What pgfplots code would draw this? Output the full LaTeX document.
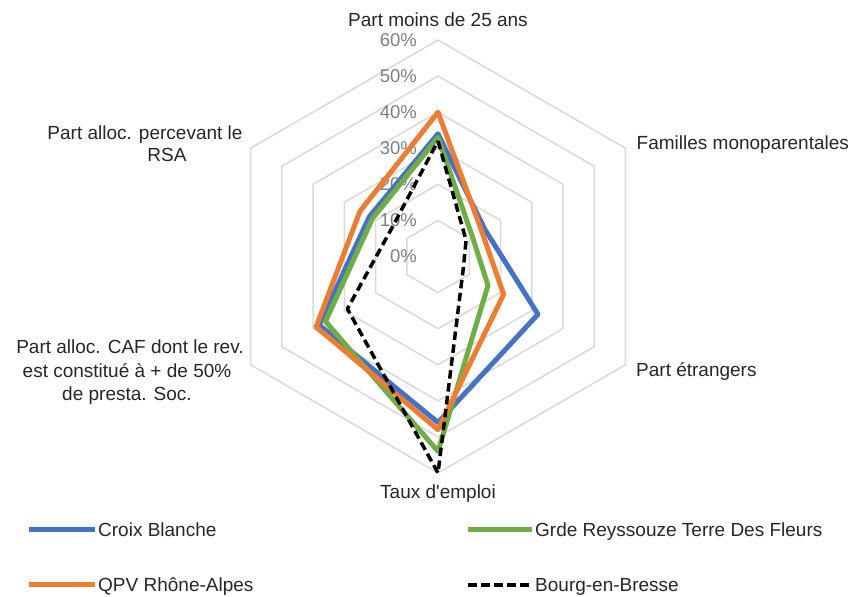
\documentclass[border=0pt]{standalone}
\usepackage{fontspec}
\setmainfont{Liberation Sans}
\usepackage{pgfplots}
\usepgfplotslibrary{polar}
\pgfplotsset{compat=1.18}
\definecolor{cblue}{HTML}{4472C4}
\definecolor{corange}{HTML}{ED7D31}
\definecolor{cgreen}{HTML}{70AD47}
\definecolor{gridc}{HTML}{D9D9D9}
\definecolor{tickc}{HTML}{7F7F7F}
\definecolor{txtc}{HTML}{262626}
\begin{document}
\begin{tikzpicture}
\useasboundingbox (0,0) rectangle (866bp,597bp);
\begin{polaraxis}[
  at={(438bp,340.5bp)}, anchor=center,
  width=433bp, height=433bp, scale only axis,
  ymin=0, ymax=60, xmin=0, xmax=360,
  enlargelimits=false,
  hide axis, clip=false,
]
% hexagonal grid
\addplot[gridc, line width=1.5bp] coordinates {(90,10)(30,10)(330,10)(270,10)(210,10)(150,10)} -- cycle;
\addplot[gridc, line width=1.5bp] coordinates {(90,20)(30,20)(330,20)(270,20)(210,20)(150,20)} -- cycle;
\addplot[gridc, line width=1.5bp] coordinates {(90,30)(30,30)(330,30)(270,30)(210,30)(150,30)} -- cycle;
\addplot[gridc, line width=1.5bp] coordinates {(90,40)(30,40)(330,40)(270,40)(210,40)(150,40)} -- cycle;
\addplot[gridc, line width=1.5bp] coordinates {(90,50)(30,50)(330,50)(270,50)(210,50)(150,50)} -- cycle;
\addplot[gridc, line width=1.5bp] coordinates {(90,60)(30,60)(330,60)(270,60)(210,60)(150,60)} -- cycle;
% tick labels
\foreach \r in {0,10,20,30,40,50,60}{
  \edef\tmp{\noexpand\node[anchor=east, inner sep=0pt, xshift=-21bp, text=tickc, font=\noexpand\fontsize{18.5bp}{20bp}\noexpand\selectfont] at (axis cs:90,\r) {\r\noexpand\%};}
  \tmp
}
% series: angles 90 Part moins de 25 ans, 30 Familles mono., 330 Part etrangers, 270 Taux d'emploi, 210 Part alloc. CAF, 150 RSA
\addplot[cblue, line width=5bp, line join=round] coordinates {(90,34)(30,15)(330,32)(270,46)(210,38)(150,22)} -- cycle;
\addplot[cgreen, line width=5bp, line join=round] coordinates {(90,33)(30,11)(330,16)(270,54)(210,36)(150,21)} -- cycle;
\addplot[corange, line width=5bp, line join=round] coordinates {(90,40)(30,14)(330,21)(270,48)(210,39)(150,25)} -- cycle;
\addplot[black, line width=3.5bp, dash pattern=on 8.5bp off 4.5bp, line join=round] coordinates {(90,32)(30,9)(330,8)(270,60)(210,29)(150,15)} -- cycle;
\end{polaraxis}
\begin{scope}[every node/.style={inner sep=0pt, text=txtc, font=\fontsize{19bp}{23bp}\selectfont}]
\node[anchor=base] at (438bp,570.5bp) {Part moins de 25 ans};
\node[anchor=base west] at (636.5bp,447bp) {Familles monoparentales};
\node[anchor=base west] at (636bp,220bp) {Part étrangers};
\node[anchor=base] at (438bp,98bp) {Taux d\textquotesingle emploi};
\node[anchor=base] at (130bp,243bp) {Part alloc. CAF dont le rev.};
\node[anchor=base] at (127bp,219bp) {est constitué à + de 50\%};
\node[anchor=base] at (127bp,196bp) {de presta. Soc.};
\node[anchor=base] at (145bp,457bp) {Part alloc. percevant le};
\node[anchor=base] at (167bp,435bp) {RSA};
% legend
\draw[cblue, line width=5bp] (29bp,67bp) -- (95bp,67bp);
\node[anchor=base west] at (98bp,60.2bp) {Croix Blanche};
\draw[cgreen, line width=5bp] (468bp,67bp) -- (532bp,67bp);
\node[anchor=base west] at (535bp,60.2bp) {Grde Reyssouze Terre Des Fleurs};
\draw[corange, line width=5bp] (29bp,12bp) -- (95bp,12bp);
\node[anchor=base west] at (98bp,5.2bp) {QPV Rhône-Alpes};
\draw[black, line width=3.5bp, dash pattern=on 8.5bp off 4.5bp] (468bp,12bp) -- (532bp,12bp);
\node[anchor=base west] at (535bp,5.2bp) {Bourg-en-Bresse};
\end{scope}
\end{tikzpicture}
\end{document}
